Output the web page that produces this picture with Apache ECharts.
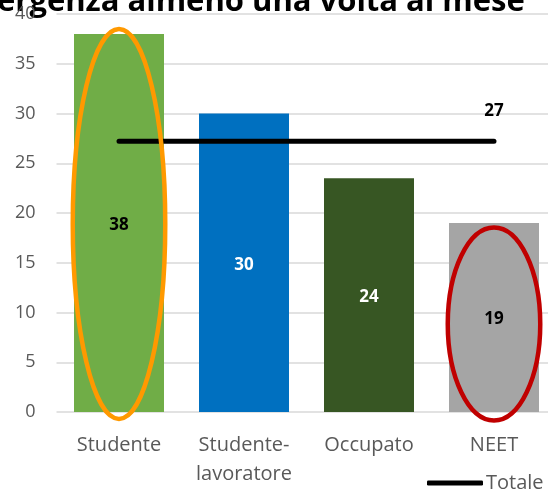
<!DOCTYPE html>
<html>
<head>
<meta charset="utf-8">
<script src="https://cdn.jsdelivr.net/npm/echarts@6/dist/echarts.min.js"></script>
<style>html,body{margin:0;padding:0;background:#fff;overflow:hidden;width:548px;height:498px;}#c{width:560px;height:498px;}</style>
</head>
<body>
<div id="c"></div>
<script>
const categories = ['Studente', 'Studente-\nlavoratore', 'Occupato', 'NEET'];
const barValues = [38, 30, 23.5, 19];
const barColors = ['#70AD47', '#0070C0', '#375623', '#A5A5A5'];
const barLabelColors = ['#000000', '#FFFFFF', '#FFFFFF', '#000000'];
const totalValue = [27.2, 27.2, 27.2, 27.2];
const yTicks = [0, 5, 10, 15, 20, 25, 30, 35, 40];
const titleText = 'ergenza almeno una volta al mese';
// highlight ellipses: category index, center value, half height (value units), colour
const highlights = [
  { cat: 0, center: 18.9, half: 19.6, color: '#FF9900' },
  { cat: 3, center: 8.85, half: 9.7, color: '#C00000' }
];

const font = 'Open Sans';
const chart = echarts.init(document.getElementById('c'), null, { renderer: 'canvas' });

const option = {
  animation: false,
  textStyle: { fontFamily: font },
  grid: { left: 56.5, width: 500, top: 14, bottom: 86, containLabel: false },
  legend: {
    data: [{ name: 'Totale', icon: 'roundRect' }],
    left: 427, top: 473, padding: 0,
    itemWidth: 56, itemHeight: 5,
    itemGap: 0,
    textStyle: { fontFamily: font, fontSize: 20, color: '#595959', padding: [0, 0, 0, -2] }
  },
  xAxis: {
    type: 'category',
    data: categories,
    axisLine: { show: false },
    axisTick: { show: false },
    axisLabel: { fontFamily: font, fontSize: 20, color: '#595959', margin: 19, lineHeight: 29, interval: 0 }
  },
  yAxis: {
    type: 'value',
    min: yTicks[0], max: yTicks[yTicks.length - 1], interval: 5,
    axisLine: { show: false },
    axisTick: { show: false },
    axisLabel: { fontFamily: font, fontSize: 18, color: '#595959', margin: 21 },
    splitLine: { lineStyle: { color: '#D9D9D9', width: 1.5 } }
  },
  series: [
    {
      type: 'bar',
      barWidth: 90,
      data: barValues.map((v, i) => ({
        value: v,
        itemStyle: { color: barColors[i] },
        label: { color: barLabelColors[i] }
      })),
      label: {
        show: true, position: 'inside', offset: [0, 2],
        fontFamily: font, fontWeight: 'bold', fontSize: 17,
        formatter: p => Math.round(p.value)
      }
    },
    {
      name: 'Totale',
      type: 'line',
      data: totalValue,
      symbol: 'circle',
      symbolSize: 0.1,
      showSymbol: true,
      itemStyle: { color: '#000' },
      lineStyle: { color: '#000', width: 5, cap: 'round' },
      label: { show: false },
      markPoint: {
        symbol: 'circle', symbolSize: 0.1,
        data: [{ coord: [totalValue.length - 1, totalValue[totalValue.length - 1]], value: Math.round(totalValue[totalValue.length - 1]) }],
        label: {
          show: true, position: 'top', distance: 22,
          fontFamily: font, fontWeight: 'bold', fontSize: 17, color: '#000',
          formatter: p => p.value
        },
        itemStyle: { color: 'transparent' }
      },
      z: 5
    }
  ]
};
chart.setOption(option);

function drawAnnotations() {
  const catW = chart.convertToPixel({ xAxisIndex: 0 }, 1) - chart.convertToPixel({ xAxisIndex: 0 }, 0);
  const els = highlights.map(h => {
    const cx = chart.convertToPixel({ xAxisIndex: 0 }, h.cat);
    const cy = chart.convertToPixel({ yAxisIndex: 0 }, h.center);
    const top = chart.convertToPixel({ yAxisIndex: 0 }, h.center + h.half);
    return {
      type: 'ellipse',
      shape: { cx: cx, cy: cy, rx: catW * 0.37, ry: cy - top },
      style: { fill: 'none', stroke: h.color, lineWidth: 4.5 },
      z: 10
    };
  });
  els.push({
    type: 'text',
    left: -3, top: -13,
    style: { text: titleText, font: 'bold 31px "Open Sans"', fill: '#000' },
    z: 0
  });
  chart.setOption({ graphic: els });
}
drawAnnotations();
</script>
</body>
</html>
